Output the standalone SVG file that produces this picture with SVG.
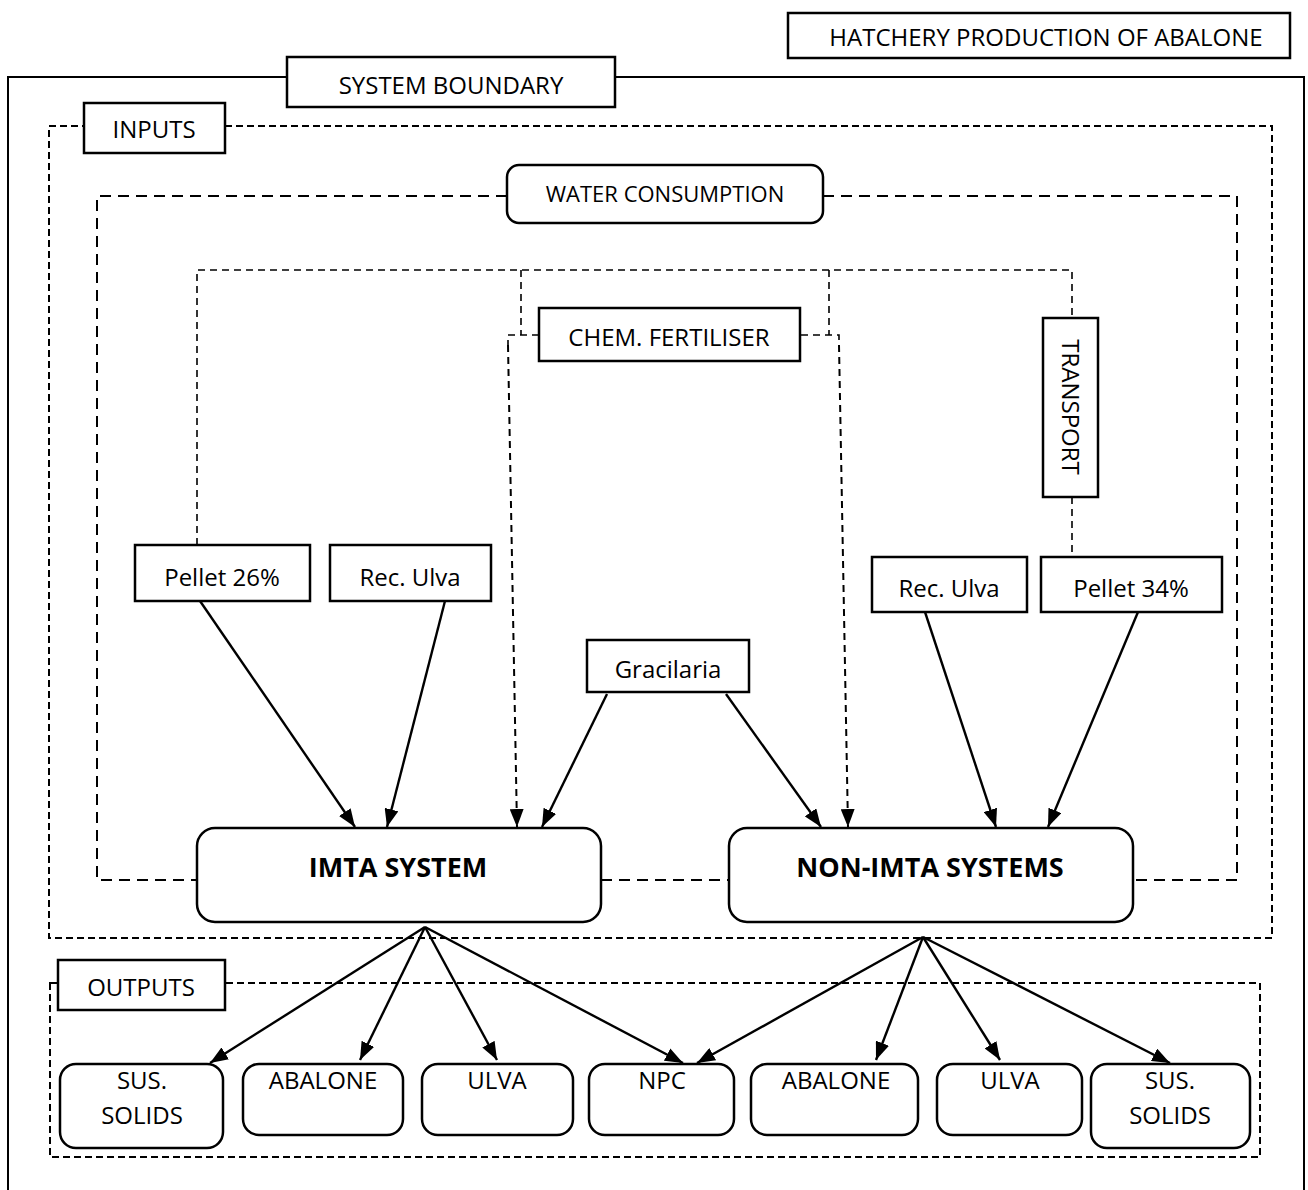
<svg xmlns="http://www.w3.org/2000/svg" width="1308" height="1190" viewBox="0 0 1308 1190">
<defs>
<style>
text{font-family:"Open Sans","Liberation Sans",sans-serif;font-size:24px;fill:#000;text-anchor:middle;dominant-baseline:central}
.b{font-weight:bold;font-size:27px}
.box{fill:#fff;stroke:#000;stroke-width:2.5}
.sl{fill:none;stroke:#000;stroke-width:2}
.d1{fill:none;stroke:#000;stroke-width:2;stroke-dasharray:7 4}
.d2{fill:none;stroke:#000;stroke-width:2;stroke-dasharray:11 7}
.d3{fill:none;stroke:#000;stroke-width:1.6;stroke-dasharray:7 5}
.ar{fill:none;stroke:#000;stroke-width:2.4;marker-end:url(#ah)}
.ard{fill:none;stroke:#000;stroke-width:2;stroke-dasharray:7 5;marker-end:url(#ah)}
</style>
<marker id="ah" viewBox="0 0 18 14" refX="18" refY="7" markerWidth="18" markerHeight="14" markerUnits="userSpaceOnUse" orient="auto">
<path d="M0,0 L18,7 L0,14 z" fill="#000"/>
</marker>
</defs>
<rect width="1308" height="1190" fill="#fff"/>

<g id="boundaries">
<polyline class="sl" points="8,1190 8,77 1304,77 1304,1190"/>
<rect class="d1" x="49" y="126" width="1223" height="812"/>
<rect class="d1" x="50" y="983" width="1210" height="174"/>
<polyline class="d2" points="507,196 97,196 97,880 197,880"/>
<polyline class="d2" points="823,196 1237,196 1237,880 1133,880"/>
<line class="d2" x1="601" y1="880" x2="729" y2="880"/>
</g>

<g id="connectors">
<polyline class="d3" points="197,545 197,270 1072,270 1072,318"/>
<line class="d3" x1="1072" y1="497" x2="1072" y2="557"/>
<line class="d3" x1="521" y1="270" x2="521" y2="335"/>
<line class="d3" x1="829" y1="270" x2="829" y2="335"/>
<polyline class="d3" points="539,335 508,335 508,345"/>
<polyline class="d3" points="801,335 839,335 839,345"/>
<line class="ard" x1="508" y1="345" x2="517" y2="827"/>
<line class="ard" x1="839" y1="345" x2="848" y2="827"/>
<line class="ar" x1="200" y1="601" x2="355" y2="827"/>
<line class="ar" x1="445" y1="601" x2="387" y2="827"/>
<line class="ar" x1="607" y1="694" x2="542" y2="827"/>
<line class="ar" x1="726" y1="694" x2="821" y2="827"/>
<line class="ar" x1="925" y1="612" x2="996" y2="827"/>
<line class="ar" x1="1138" y1="612" x2="1048" y2="827"/>
<line class="ar" x1="425" y1="927" x2="210" y2="1063"/>
<line class="ar" x1="425" y1="927" x2="360" y2="1060"/>
<line class="ar" x1="425" y1="927" x2="497" y2="1060"/>
<line class="ar" x1="425" y1="927" x2="683" y2="1063"/>
<line class="ar" x1="923" y1="937" x2="697" y2="1063"/>
<line class="ar" x1="923" y1="937" x2="876" y2="1060"/>
<line class="ar" x1="923" y1="937" x2="1000" y2="1060"/>
<line class="ar" x1="923" y1="937" x2="1170" y2="1063"/>
</g>

<g id="title"><rect class="box" x="788" y="13" width="502" height="45"/><text x="1046" y="36">HATCHERY PRODUCTION OF ABALONE</text></g>
<g id="system-boundary"><rect class="box" x="287" y="57" width="328" height="50"/><text x="451" y="84">SYSTEM BOUNDARY</text></g>
<g id="inputs"><rect class="box" x="84" y="103" width="141" height="50"/><text x="154" y="128">INPUTS</text></g>
<g id="water"><rect class="box" x="507" y="165" width="316" height="58" rx="12"/><text x="665" y="193" style="font-size:22px">WATER CONSUMPTION</text></g>
<g id="chem"><rect class="box" x="539" y="308" width="261" height="53"/><text x="669" y="336">CHEM. FERTILISER</text></g>
<g id="transport"><rect class="box" x="1043" y="318" width="55" height="179"/><text x="0" y="0" transform="translate(1071,407) rotate(90)">TRANSPORT</text></g>
<g id="pellet26"><rect class="box" x="135" y="545" width="175" height="56"/><text x="222" y="576">Pellet 26%</text></g>
<g id="reculva1"><rect class="box" x="330" y="545" width="161" height="56"/><text x="410" y="576">Rec. Ulva</text></g>
<g id="reculva2"><rect class="box" x="872" y="557" width="155" height="55"/><text x="949" y="587">Rec. Ulva</text></g>
<g id="pellet34"><rect class="box" x="1041" y="557" width="181" height="55"/><text x="1131" y="587">Pellet 34%</text></g>
<g id="gracilaria"><rect class="box" x="587" y="640" width="162" height="52"/><text x="668" y="668">Gracilaria</text></g>
<g id="imta"><rect class="box" x="197" y="828" width="404" height="94" rx="18"/><text class="b" x="398" y="866">IMTA SYSTEM</text></g>
<g id="nonimta"><rect class="box" x="729" y="828" width="404" height="94" rx="18"/><text class="b" x="930" y="866">NON-IMTA SYSTEMS</text></g>
<g id="outputs"><rect class="box" x="58" y="960" width="167" height="50"/><text x="141" y="986">OUTPUTS</text></g>
<g id="out-ss1"><rect class="box" x="60" y="1064" width="163" height="84" rx="16"/><text x="142" y="1079">SUS.</text><text x="142" y="1114">SOLIDS</text></g>
<g id="out-ab1"><rect class="box" x="243" y="1064" width="160" height="71" rx="16"/><text x="323" y="1079">ABALONE</text></g>
<g id="out-ul1"><rect class="box" x="422" y="1064" width="151" height="71" rx="16"/><text x="497" y="1079">ULVA</text></g>
<g id="out-npc"><rect class="box" x="589" y="1064" width="145" height="71" rx="16"/><text x="662" y="1079">NPC</text></g>
<g id="out-ab2"><rect class="box" x="751" y="1064" width="167" height="71" rx="16"/><text x="836" y="1079">ABALONE</text></g>
<g id="out-ul2"><rect class="box" x="937" y="1064" width="145" height="71" rx="16"/><text x="1010" y="1079">ULVA</text></g>
<g id="out-ss2"><rect class="box" x="1091" y="1064" width="159" height="84" rx="16"/><text x="1170" y="1079">SUS.</text><text x="1170" y="1114">SOLIDS</text></g>
</svg>
